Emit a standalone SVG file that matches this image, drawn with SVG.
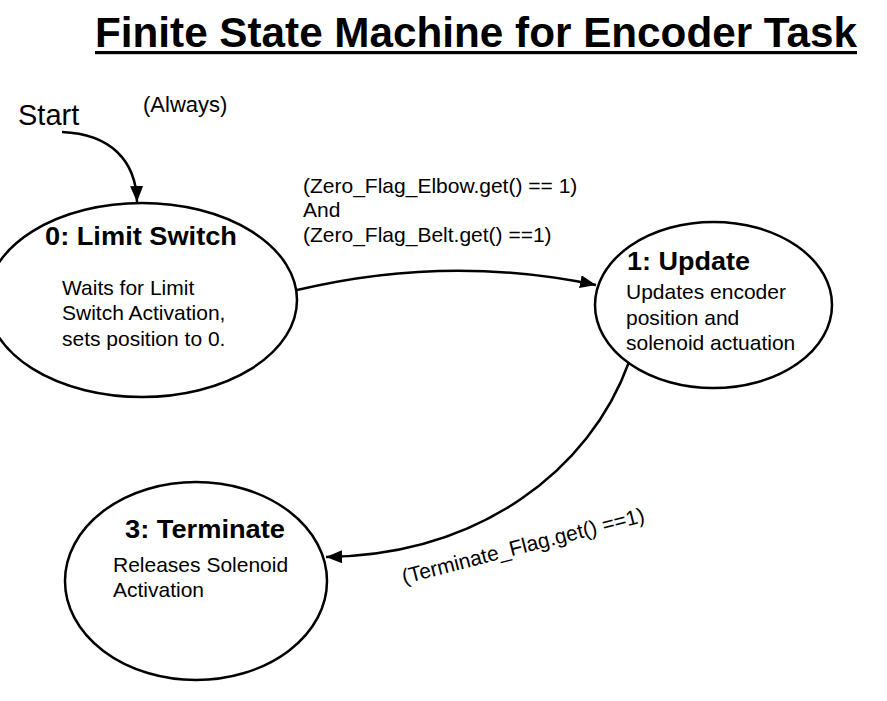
<svg xmlns="http://www.w3.org/2000/svg" width="887" height="701" viewBox="0 0 887 701">
<style>
  text { font-family: "Liberation Sans", Arial, Helvetica, sans-serif; fill: #000; }
  .title { font-size: 42px; font-weight: bold; }
  .head { font-size: 26px; font-weight: bold; }
  .body { font-size: 21px; }
  .state { fill: #fff; stroke: #000; stroke-width: 2.5; }
  .edge { fill: none; stroke: #000; stroke-width: 2.5; marker-end: url(#arrow); }
</style>
<defs>
  <marker id="arrow" markerUnits="userSpaceOnUse" markerWidth="17" markerHeight="13" refX="16" refY="6.5" orient="auto">
    <path d="M0,0 L16,6.5 L0,13 z" fill="#000"/>
  </marker>
</defs>
<rect width="887" height="701" fill="#fff"/>

<g id="title">
  <text class="title" x="95" y="47" textLength="762" lengthAdjust="spacingAndGlyphs">Finite State Machine for Encoder Task</text>
  <rect x="95" y="51" width="762" height="3.2" fill="#000"/>
</g>

<g id="start">
  <text x="18" y="125" style="font-size:29px">Start</text>
</g>

<g id="state0">
  <ellipse class="state" cx="142" cy="300" rx="155" ry="97"/>
  <text class="head" x="45" y="245" textLength="192" lengthAdjust="spacingAndGlyphs">0: Limit Switch</text>
  <text class="body" x="62" y="295">Waits for Limit</text>
  <text class="body" x="62" y="320">Switch Activation,</text>
  <text class="body" x="62" y="346">sets position to 0.</text>
</g>

<g id="state1">
  <ellipse class="state" cx="713.5" cy="305" rx="118.5" ry="83"/>
  <text class="head" x="627" y="270" textLength="123" lengthAdjust="spacingAndGlyphs">1: Update</text>
  <text class="body" x="626" y="299">Updates encoder</text>
  <text class="body" x="626" y="324.5">position and</text>
  <text class="body" x="626" y="350">solenoid actuation</text>
</g>

<g id="state3">
  <ellipse class="state" cx="196" cy="581" rx="131" ry="99"/>
  <text class="head" x="125" y="538" textLength="160" lengthAdjust="spacingAndGlyphs">3: Terminate</text>
  <text class="body" x="113" y="572">Releases Solenoid</text>
  <text class="body" x="113" y="597">Activation</text>
</g>

<g id="connectors">
  <path class="edge" d="M62,132 C110,134 136,160 137,202"/>
  <path class="edge" d="M297,290 Q448,254 596,285"/>
  <path class="edge" d="M629,362 C590,470 480,555 326,557"/>
</g>

<g id="labels">
  <text class="body" x="143" y="112" style="font-size:22px">(Always)</text>
  <text class="body" x="303" y="193">(Zero_Flag_Elbow.get() == 1)</text>
  <text class="body" x="303" y="217">And</text>
  <text class="body" x="303" y="242">(Zero_Flag_Belt.get() ==1)</text>
  <text class="body" transform="translate(404,584) rotate(-14.5)">(Terminate_Flag.get() ==1)</text>
</g>
</svg>
